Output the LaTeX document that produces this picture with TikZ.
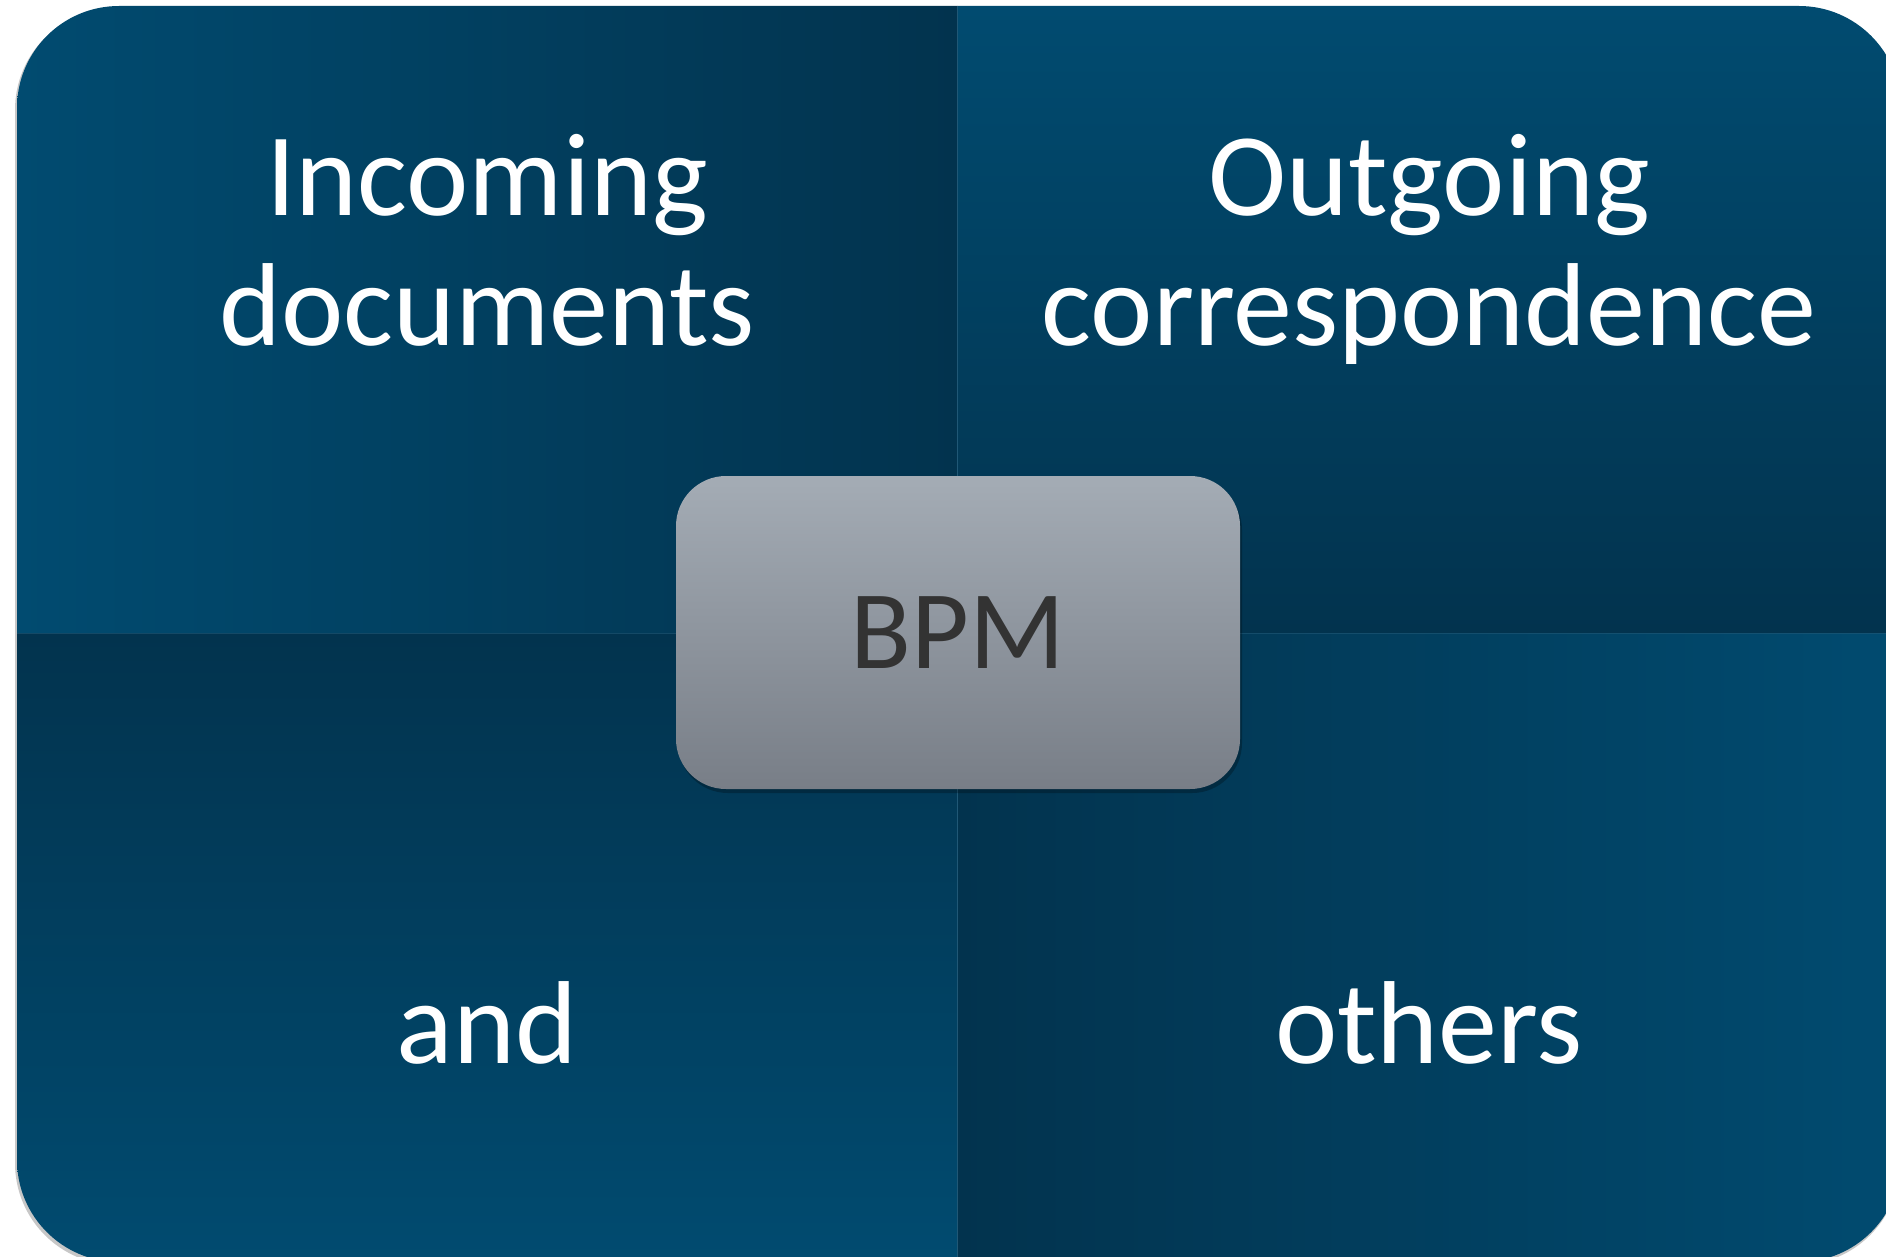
\documentclass[tikz,border=0pt]{standalone}
\usepackage{fontspec}
\setmainfont{Carlito}
\usetikzlibrary{shadows}
\definecolor{qlight}{RGB}{1,75,112}
\definecolor{qdark}{RGB}{2,51,78}
\definecolor{qline}{RGB}{32,88,118}
\definecolor{btop}{RGB}{164,172,181}
\definecolor{bbot}{RGB}{120,126,135}
\definecolor{btext}{RGB}{51,51,51}
\tikzset{
  qtext/.style={text=white, font=\fontsize{118}{130}\selectfont, align=center, inner sep=0pt},
  bpmbox/.style={rounded corners=50pt, minimum width=564pt, minimum height=313pt,
    top color=btop, bottom color=bbot, text=btext, font=\fontsize{112}{130}\selectfont,
    drop shadow={shadow xshift=2pt, shadow yshift=-4pt, opacity=0.25, fill=black}},
}
\begin{document}
\begin{tikzpicture}[x=1pt,y=-1pt]
\useasboundingbox (0,0) rectangle (1886,1257);
\fill[white] (0,0) rectangle (1886,1257);
% outer shadow
\fill[black!22, rounded corners=102pt] (15,8) rectangle (1900,1265);
\begin{scope}
  \clip[rounded corners=102pt] (17,6) rectangle (1901,1262);
  \shade[left color=qlight, right color=qdark] (17,6) rectangle (957,633);
  \shade[top color=qlight, bottom color=qdark] (957,6) rectangle (1901,633);
  \shade[bottom color=qlight, top color=qdark] (17,633) rectangle (957,1262);
  \shade[right color=qlight, left color=qdark] (957,633) rectangle (1901,1262);
  \draw[qline, line width=1pt] (957,6) -- (957,1262);
  \draw[qline, line width=0.6pt, opacity=0.6] (17,633) -- (1901,633);
\end{scope}
\node[qtext, anchor=base] (tl) at (487,345) {Incoming\\documents};
\node[qtext, anchor=base] (tr) at (1429,345) {Outgoing\\correspondence};
\node[qtext, anchor=base] (bl) at (487,1063) {and};
\node[qtext, anchor=base] (br) at (1429,1063) {others};
\node[bpmbox] (bpm) at (958,632.5) {BPM};
\end{tikzpicture}
\end{document}
